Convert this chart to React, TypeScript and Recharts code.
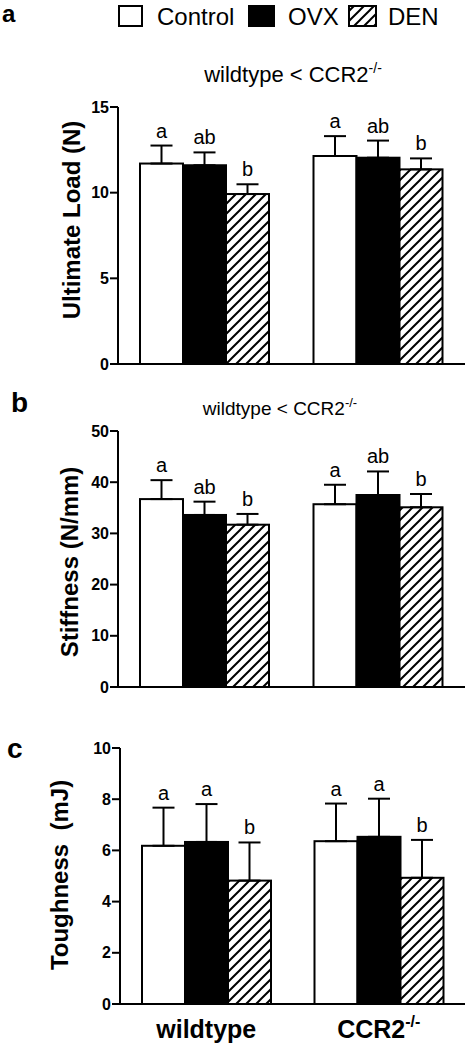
import React from "react";
import { BarChart, Bar, XAxis, YAxis, ErrorBar } from "recharts";

// ─── data ────────────────────────────────────────────────────────────────
const groups = ["wildtype", "CCR2-/-"];
const treatments = ["Control", "OVX", "DEN"];

// order inside each array: wildtype Control, OVX, DEN, then CCR2-/- Control, OVX, DEN
const loadMean = [11.7, 11.6, 9.92, 12.14, 12.04, 11.36];
const loadErr = [1.05, 0.75, 0.57, 1.16, 1.0, 0.64];
const loadLetters = ["a", "ab", "b", "a", "ab", "b"];
const loadTicks = [0, 5, 10, 15];

const stiffMean = [36.7, 33.6, 31.7, 35.7, 37.5, 35.1];
const stiffErr = [3.7, 2.6, 2.1, 3.8, 4.6, 2.6];
const stiffLetters = ["a", "ab", "b", "a", "ab", "b"];
const stiffTicks = [0, 10, 20, 30, 40, 50];

const toughMean = [6.18, 6.33, 4.82, 6.36, 6.53, 4.93];
const toughErr = [1.49, 1.48, 1.49, 1.47, 1.49, 1.48];
const toughLetters = ["a", "a", "b", "a", "a", "b"];
const toughTicks = [0, 2, 4, 6, 8, 10];

const FONT = '"Liberation Sans", Arial, Helvetica, sans-serif';
const fills = ["#ffffff", "#000000", "url(#hatch)"];

function buildRows(mean: number[], err: number[]) {
  return groups.map((g, i) => {
    const row: any = { group: g };
    treatments.forEach((t, s) => {
      row[t] = mean[i * 3 + s];
      row[t + "Err"] = [0, err[i * 3 + s]];
    });
    return row;
  });
}

// bar rectangle + significance letter above the error bar
const makeShape = (mean: number[], err: number[], letters: string[], s: number) => (props: any) => {
  const { x, y, width, height, index, fill } = props;
  const k = index * 3 + s;
  const errPx = height > 0 ? (err[k] * height) / mean[k] : 0;
  return (
    <g>
      <rect x={x} y={y} width={width} height={height} fill={fill} stroke="#000" strokeWidth={2} />
      <text
        x={x + width / 2}
        y={y - errPx - 8}
        textAnchor="middle"
        fontFamily={FONT}
        fontSize={20}
        fill="#000"
      >
        {letters[k]}
      </text>
    </g>
  );
};

const GroupTick = ({ x, y, payload }: any) => {
  const v: string = payload.value;
  const sup = v.endsWith("-/-");
  return (
    <text x={x} y={y + 34} textAnchor="middle" fontFamily={FONT} fontWeight="bold" fontSize={25} fill="#000">
      {sup ? v.slice(0, -3) : v}
      {sup && (
        <tspan dy={-11} fontSize={16}>
          -/-
        </tspan>
      )}
    </text>
  );
};

interface PanelProps {
  top: number;
  height: number;
  marginTop: number;
  marginLeft: number;
  xHeight: number;
  mean: number[];
  err: number[];
  letters: string[];
  ticks: number[];
  yLabel: string;
  labelX: number;
  labelY: number;
  showGroups?: boolean;
}

function Panel(p: PanelProps) {
  const rows = buildRows(p.mean, p.err);
  const max = p.ticks[p.ticks.length - 1];
  return (
    <div style={{ position: "absolute", left: 0, top: p.top }}>
      <BarChart
        width={470}
        height={p.height}
        data={rows}
        margin={{ top: p.marginTop, right: 5, bottom: 0, left: p.marginLeft }}
        barCategoryGap={22}
        barGap={0}
      >
        <XAxis
          dataKey="group"
          height={p.xHeight}
          axisLine={{ stroke: "#000", strokeWidth: 2 }}
          tickLine={false}
          tickSize={0}
          tickMargin={0}
          tick={p.showGroups ? <GroupTick /> : false}
        />
        <YAxis
          width={118}
          domain={[0, max]}
          ticks={p.ticks}
          interval={0}
          axisLine={{ stroke: "#000", strokeWidth: 2 }}
          tickLine={{ stroke: "#000", strokeWidth: 2 }}
          tickSize={8}
          tickMargin={1}
          tick={{ fill: "#000", fontSize: 16, fontWeight: "bold", fontFamily: FONT }}
          label={{
            content: () => (
              <text
                transform={`translate(${p.labelX},${p.labelY}) rotate(-90)`}
                textAnchor="middle"
                fontFamily={FONT}
                fontWeight="bold"
                fontSize={24}
                fill="#000"
                style={{ whiteSpace: "pre" }}
              >
                {p.yLabel}
              </text>
            ),
          }}
        />
        {treatments.map((t, s) => (
          <Bar
            key={t}
            dataKey={t}
            fill={fills[s]}
            isAnimationActive={false}
            shape={makeShape(p.mean, p.err, p.letters, s)}
          >
            <ErrorBar dataKey={t + "Err"} width={11} stroke="#000" strokeWidth={2} direction="y" />
          </Bar>
        ))}
      </BarChart>
    </div>
  );
}

export default function App() {
  const txt = { fontFamily: FONT, fill: "#000" };
  return (
    <div style={{ position: "absolute", left: 0, top: 0, width: 470, height: 1050, background: "#fff" }}>
      <svg width={0} height={0} style={{ position: "absolute" }}>
        <defs>
          <pattern id="hatch" patternUnits="userSpaceOnUse" width={10} height={10}>
            <rect width={10} height={10} fill="#fff" />
            <path d="M-2,2 l4,-4 M0,10 l10,-10 M8,12 l4,-4" stroke="#000" strokeWidth={2} />
          </pattern>
        </defs>
      </svg>

      <Panel
        top={0}
        height={380}
        marginTop={107}
        marginLeft={0}
        xHeight={16}
        mean={loadMean}
        err={loadErr}
        letters={loadLetters}
        ticks={loadTicks}
        yLabel="Ultimate Load (N)"
        labelX={80}
        labelY={220}
      />
      <Panel
        top={380}
        height={320}
        marginTop={51}
        marginLeft={0}
        xHeight={13}
        mean={stiffMean}
        err={stiffErr}
        letters={stiffLetters}
        ticks={stiffTicks}
        yLabel="Stiffness (N/mm)"
        labelX={78}
        labelY={182}
      />
      <Panel
        top={700}
        height={350}
        marginTop={48}
        marginLeft={2}
        xHeight={46}
        mean={toughMean}
        err={toughErr}
        letters={toughLetters}
        ticks={toughTicks}
        yLabel="Toughness  (mJ)"
        labelX={68}
        labelY={175}
        showGroups
      />

      {/* panel letters, legend and comparison titles */}
      <svg width={470} height={1050} style={{ position: "absolute", left: 0, top: 0, pointerEvents: "none" }}>
        <text x={2} y={22} {...txt} fontSize={24} fontWeight="bold">a</text>
        <text x={11} y={412} {...txt} fontSize={28} fontWeight="bold">b</text>
        <text x={7} y={758} {...txt} fontSize={28} fontWeight="bold">c</text>

        <rect x={119} y={6} width={23} height={20} fill="#fff" stroke="#000" strokeWidth={2} />
        <text x={157} y={25} {...txt} fontSize={24}>{treatments[0]}</text>
        <rect x={249} y={6} width={25} height={20} fill="#000" stroke="#000" strokeWidth={2} />
        <text x={288} y={25} {...txt} fontSize={24}>{treatments[1]}</text>
        <rect x={349} y={6} width={27} height={20} fill="url(#hatch)" stroke="#000" strokeWidth={2} />
        <text x={388} y={25} {...txt} fontSize={24}>{treatments[2]}</text>

        <text x={293} y={82} {...txt} fontSize={22} textAnchor="middle">
          wildtype &lt; CCR2<tspan dy={-9} fontSize={14}>-/-</tspan>
        </text>
        <text x={280} y={415} {...txt} fontSize={19} textAnchor="middle">
          wildtype &lt; CCR2<tspan dy={-8} fontSize={13}>-/-</tspan>
        </text>
      </svg>
    </div>
  );
}
